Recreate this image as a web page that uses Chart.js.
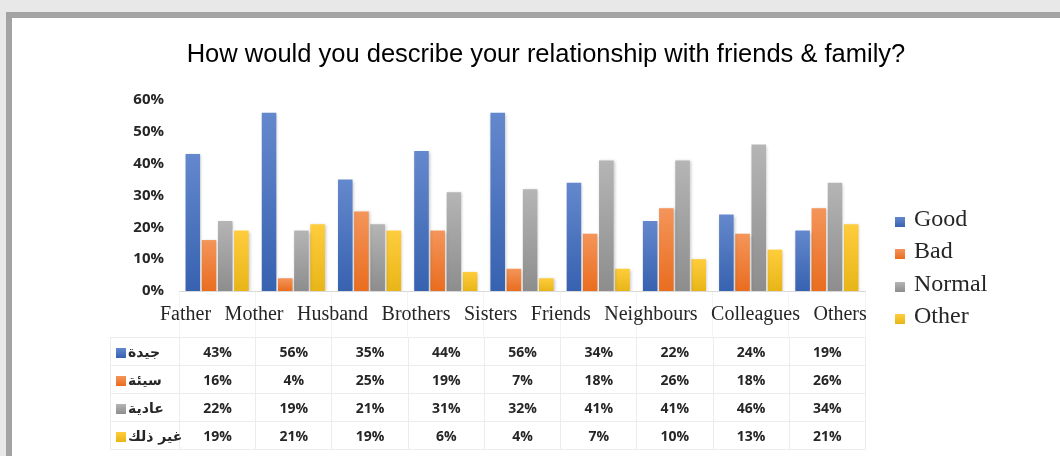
<!DOCTYPE html>
<html>
<head>
<meta charset="utf-8">
<script src="https://cdn.jsdelivr.net/npm/chart.js@4"></script>
<style>
  html, body { margin: 0; padding: 0; width: 1060px; height: 456px; overflow: hidden; background: #e8e8e8; }
  #frame { position: absolute; left: 6px; top: 12px; width: 1100px; height: 500px; background: #a3a3a3; }
  #panel { position: absolute; left: 12px; top: 18px; width: 1100px; height: 500px; background: #fff; }
  #chartCanvas { position: absolute; left: 12px; top: 18px; }
  #legend { position: absolute; left: 0; top: 0; }
  .legItem { position: absolute; font-family: "Liberation Serif", serif; font-size: 24px; color: #262626; white-space: nowrap; line-height: 32px; }
  .legItem .sw { display: inline-block; width: 10px; height: 10px; margin-right: 9px; vertical-align: -1px; }
  #dataTable { position: absolute; border-collapse: collapse; table-layout: fixed; }
  #dataTable td { border: 1px solid #ececec; height: 27px; padding: 0; text-align: center;
    font-family: "Open Sans", sans-serif; font-weight: 700; font-size: 14px; color: #262626; }
  #dataTable td.key { text-align: left; padding-left: 5px; font-family: "DejaVu Sans", sans-serif; font-size: 14px; white-space: nowrap; }
  #dataTable td.key .sw { display: inline-block; width: 10px; height: 10px; margin-right: 2px; vertical-align: -1px; }
</style>
</head>
<body>
<div id="frame"></div>
<div id="panel"></div>
<canvas id="chartCanvas" width="1068" height="320"></canvas>
<div id="legend"></div>
<table id="dataTable"></table>
<script>
const categories = ['Father', 'Mother', 'Husband', 'Brothers', 'Sisters', 'Friends', 'Neighbours', 'Colleagues', 'Others'];
const seriesNames = ['Good', 'Bad', 'Normal', 'Other'];
const tableLabels = ['جيدة', 'سيئة', 'عادية', 'غير ذلك'];
const goodValues = [43, 56, 35, 44, 56, 34, 22, 24, 19];
const badValues = [16, 4, 25, 19, 7, 18, 26, 18, 26];
const normalValues = [22, 19, 21, 31, 32, 41, 41, 46, 34];
const otherValues = [19, 21, 19, 6, 4, 7, 10, 13, 21];
const yMin = 0, yMax = 60, yStep = 10;
const chartTitle = 'How would you describe your relationship with friends & family?';

const allValues = [goodValues, badValues, normalValues, otherValues];
// top / bottom colours of the bar gradients
const colorPairs = [
  ['#6488cd', '#3762b0'],
  ['#f4955a', '#e96d1f'],
  ['#b5b5b5', '#8d8d8d'],
  ['#ffcd3c', '#e8b518']
];

function barGradient(i) {
  return function (context) {
    const chart = context.chart;
    const { ctx, chartArea, scales } = chart;
    if (!chartArea || context.raw === undefined) return colorPairs[i][1];
    const top = scales.y.getPixelForValue(context.raw);
    const bottom = scales.y.getPixelForValue(0);
    if (bottom - top < 1) return colorPairs[i][1];
    const g = ctx.createLinearGradient(0, top, 0, bottom);
    g.addColorStop(0, colorPairs[i][0]);
    g.addColorStop(1, colorPairs[i][1]);
    return g;
  };
}

// title centred on the whole panel, not just the plot
const panelTitle = {
  id: 'panelTitle',
  afterDraw(chart) {
    const ctx = chart.ctx;
    ctx.save();
    ctx.font = '25.5px "Liberation Sans", Arial, sans-serif';
    ctx.fillStyle = '#000';
    ctx.textAlign = 'center';
    ctx.textBaseline = 'middle';
    ctx.fillText(chartTitle, chart.width / 2, 36.5);
    ctx.restore();
  }
};

// the category names run as one line of text under the axis, as in the source
const flowLabels = {
  id: 'flowLabels',
  afterDraw(chart) {
    const { ctx, chartArea } = chart;
    ctx.save();
    ctx.font = '20px "Liberation Serif", serif';
    ctx.fillStyle = '#262626';
    ctx.textBaseline = 'middle';
    ctx.textAlign = 'left';
    let x = chartArea.left - 19;
    const gap = 13.5;
    categories.forEach(c => {
      ctx.fillText(c, x, chartArea.bottom + 24);
      x += ctx.measureText(c).width + gap;
    });
    ctx.restore();
  }
};

const barShadow = {
  id: 'barShadow',
  beforeDatasetsDraw(chart) {
    const ctx = chart.ctx;
    ctx.save();
    ctx.shadowColor = 'rgba(0,0,0,0.22)';
    ctx.shadowBlur = 3;
    ctx.shadowOffsetX = 1;
    ctx.shadowOffsetY = 1;
  },
  afterDatasetsDraw(chart) {
    chart.ctx.restore();
  }
};

const chart = new Chart(document.getElementById('chartCanvas').getContext('2d'), {
  type: 'bar',
  data: {
    labels: categories,
    datasets: seriesNames.map((name, i) => ({
      label: name,
      data: allValues[i],
      backgroundColor: barGradient(i),
      borderWidth: 0,
      categoryPercentage: 0.85,
      barPercentage: 0.9
    }))
  },
  options: {
    responsive: false,
    animation: false,
    layout: { padding: { left: 0, right: 215, top: 82, bottom: 0 } },
    plugins: {
      legend: { display: false },
      tooltip: { enabled: false },
      title: { display: false }
    },
    scales: {
      x: {
        grid: { display: true, drawOnChartArea: false, drawTicks: true, tickLength: 47, color: '#f4f4f4', offset: true },
        border: { display: true, color: '#d9d9d9' },
        ticks: { callback: () => '', autoSkip: false, maxRotation: 0 },
        afterFit(scale) { scale.height = 47; }
      },
      y: {
        min: yMin,
        max: yMax,
        grid: { display: false, drawTicks: false },
        border: { display: false },
        ticks: {
          stepSize: yStep,
          padding: 15,
          color: '#262626',
          font: { family: '"Open Sans", sans-serif', size: 15, weight: 'bold' },
          callback: v => v + '%'
        },
        afterFit(scale) { scale.width = 167; }
      }
    }
  },
  plugins: [panelTitle, flowLabels, barShadow]
});

// legend on the right
const legend = document.getElementById('legend');
seriesNames.forEach((name, i) => {
  const d = document.createElement('div');
  d.className = 'legItem';
  d.style.left = '895px';
  d.style.top = (202 + i * 32.3) + 'px';
  d.innerHTML = '<span class="sw" style="background:linear-gradient(' + colorPairs[i][0] + ',' + colorPairs[i][1] + ')"></span>' + name;
  legend.appendChild(d);
});

// data table aligned with the category scale
const xs = chart.scales.x;
const colW = (xs.right - xs.left) / categories.length;
const canvasLeft = 12, canvasTop = 18;
const table = document.getElementById('dataTable');
const keyW = 69;
table.style.left = (canvasLeft + xs.left - keyW) + 'px';
table.style.top = (canvasTop + xs.top + 46) + 'px';
table.style.width = (keyW + colW * categories.length) + 'px';
const cg = document.createElement('colgroup');
cg.innerHTML = '<col style="width:' + keyW + 'px">' + categories.map(() => '<col style="width:' + colW + 'px">').join('');
table.appendChild(cg);
seriesNames.forEach((name, i) => {
  const tr = document.createElement('tr');
  let html = '<td class="key"><span class="sw" style="background:linear-gradient(' + colorPairs[i][0] + ',' + colorPairs[i][1] + ')"></span><span dir="rtl">' + tableLabels[i] + '</span></td>';
  allValues[i].forEach(v => { html += '<td>' + v + '%</td>'; });
  tr.innerHTML = html;
  table.appendChild(tr);
});
</script>
</body>
</html>
